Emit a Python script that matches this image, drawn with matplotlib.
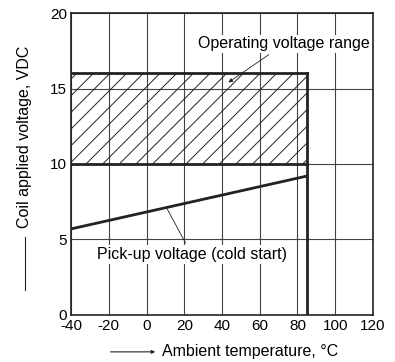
import numpy as np
import matplotlib
matplotlib.use("Agg")
import matplotlib.pyplot as plt
from matplotlib.patches import Rectangle, FancyArrowPatch

plt.rcParams.update({
    "font.family": ["Liberation Sans", "DejaVu Sans"],
    "font.size": 11,
    "axes.unicode_minus": False,
    "hatch.linewidth": 0.7,
})

# data
x_ticks = [-40, -20, 0, 20, 40, 60, 80, 100, 120]
y_ticks = [0, 5, 10, 15, 20]
range_temp = [-40, 85]        # operating range, deg C
range_volt = [10, 16]         # operating range, VDC
pickup_temp = [-40, 85]
pickup_volt = [5.7, 9.2]

INK = "#222222"
TXT = 11.5

fig = plt.figure(figsize=(3.95, 3.62), dpi=100)
ax = fig.add_axes([0.180, 0.130, 0.764, 0.834])

ax.set_xlim(-40, 120)
ax.set_ylim(0, 20)
ax.set_xticks(x_ticks)
ax.set_yticks(y_ticks)
ax.tick_params(length=0, pad=3, labelsize=11)
ax.grid(True, color="#444444", linewidth=0.8)
ax.set_axisbelow(True)
for sp in ax.spines.values():
    sp.set_linewidth(1.2)
    sp.set_color(INK)

# hatched operating range
rect = Rectangle((range_temp[0], range_volt[0]), range_temp[1] - range_temp[0],
                 range_volt[1] - range_volt[0], facecolor="none",
                 edgecolor=INK, hatch="//", linewidth=0, zorder=2)
ax.add_patch(rect)
ax.plot(range_temp, [range_volt[0]] * 2, color=INK, lw=2, zorder=3)
ax.plot(range_temp, [range_volt[1]] * 2, color=INK, lw=2, zorder=3)
ax.plot([range_temp[1]] * 2, [0, range_volt[1]], color=INK, lw=2, zorder=3)

# pick-up voltage
ax.plot(pickup_temp, pickup_volt, color=INK, lw=2, zorder=3)

ax.annotate("Operating voltage range", xy=(43.4, 15.4), xytext=(73, 17.95),
            ha="center", va="center", fontsize=TXT,
            bbox=dict(boxstyle="square,pad=0.1", fc="white", ec="none"),
            arrowprops=dict(arrowstyle="-|>", color=INK, lw=0.6,
                            shrinkA=2, shrinkB=0, mutation_scale=6),
            zorder=4)
ax.annotate("Pick-up voltage (cold start)", xy=(10.6, 7.1), xytext=(24, 4.0),
            ha="center", va="center", fontsize=TXT,
            bbox=dict(boxstyle="square,pad=0.1", fc="white", ec="none"),
            arrowprops=dict(arrowstyle="-", color=INK, lw=0.6,
                            shrinkA=2, shrinkB=0),
            zorder=4)

# axis labels with leading arrows
fig.text(0.063, 0.622, "Coil applied voltage, VDC", rotation=90,
         ha="center", va="center", fontsize=TXT)
fig.add_artist(plt.Line2D([0.063, 0.063], [0.199, 0.345], color=INK,
                          lw=0.8, transform=fig.transFigure))
fig.text(0.633, 0.028, "Ambient temperature, \u00b0C",
         ha="center", va="center", fontsize=TXT)
fig.patches.append(FancyArrowPatch(
    (0.273, 0.028), (0.400, 0.028), transform=fig.transFigure,
    arrowstyle="-|>", mutation_scale=5, lw=0.8, color=INK))

fig.savefig("out.png", dpi=100)
